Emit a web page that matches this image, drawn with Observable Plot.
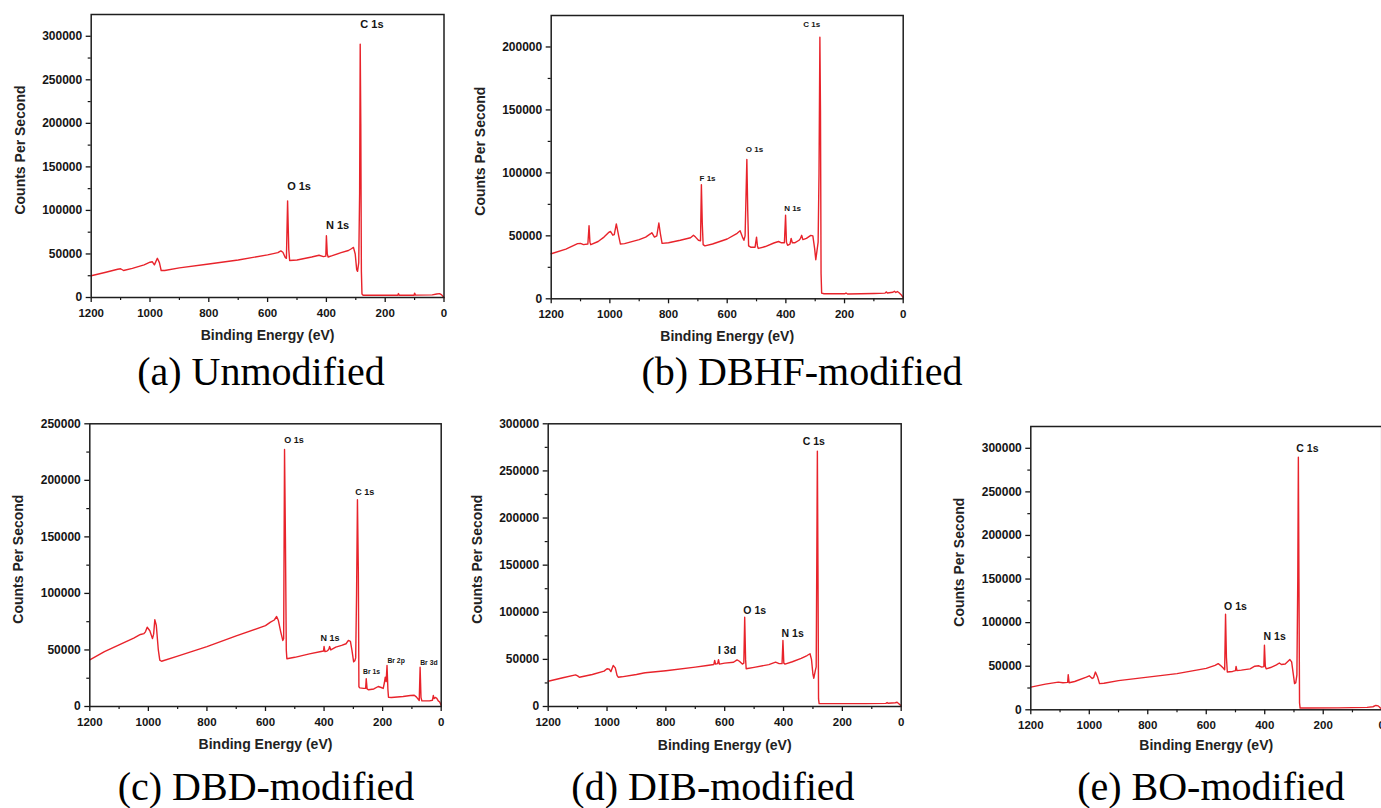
<!DOCTYPE html>
<html><head><meta charset="utf-8">
<script src="https://cdn.jsdelivr.net/npm/d3@7"></script>
<script src="https://cdn.jsdelivr.net/npm/@observablehq/plot@0.6"></script>
<style>
html,body{margin:0;padding:0;background:#fff;overflow:hidden;}
#page{position:relative;width:1381px;height:808px;overflow:hidden;background:#fff;}
.panel{position:absolute;}
.panel svg{max-width:none !important;}
.cap{position:absolute;width:480px;text-align:center;font-family:"Liberation Serif","Times New Roman",Times,serif;font-size:40px;line-height:40px;color:#000;white-space:nowrap;}
</style></head><body><div id="page"></div>
<script>
// ---- Data: [binding energy (eV), counts per second] ----
const seriesA = [[1200,25000],[1150,29000],[1110,32500],[1100,33000],[1090,31000],[1060,33500],[1020,37500],[1000,40500],[992,41000],[985,37500],[975,45000],[968,40000],[962,31000],[950,31000],[900,34000],[800,38500],[700,43000],[600,49000],[565,51500],[555,53500],[548,52000],[540,46000],[536,45000],[532,111000],[528,55000],[525,42500],[500,43000],[450,46500],[425,48500],[410,47000],[402,47500],[400,71000],[397,50000],[394,46500],[380,48000],[350,51500],[325,54000],[315,56000],[308,57500],[302,50000],[297,32000],[294,30000],[290,40000],[287,120000],[285,291000],[283,200000],[281,30000],[279,4000],[275,2500],[200,2500],[157,2500],[155,4500],[152,2500],[102,2500],[100,5000],[97,2700],[40,3000],[25,4000],[15,4500],[8,3000],[0,0]];
const seriesB = [[1200,35800],[1150,39500],[1110,43800],[1100,44000],[1090,43000],[1075,43500],[1071,58000],[1068,45000],[1065,43000],[1040,45500],[1020,49000],[1005,52500],[998,53500],[990,50500],[985,51000],[978,59500],[970,50000],[964,43500],[950,43800],[900,47000],[878,49000],[862,51500],[857,52500],[848,49000],[840,50000],[833,60200],[828,52000],[822,44000],[800,44500],[760,46500],[725,48500],[715,50500],[708,49000],[698,46500],[691,46000],[688,90700],[685,60000],[682,43000],[676,42000],[650,43500],[600,47500],[566,52000],[556,54000],[548,49000],[543,46500],[539,50000],[533,110600],[530,70000],[527,42000],[520,41000],[505,41000],[500,49000],[497,42000],[494,40000],[470,41500],[441,44300],[425,45500],[415,44500],[405,44500],[401,66300],[398,45000],[394,42500],[386,43500],[382,48000],[378,44500],[370,44500],[355,46500],[350,48000],[346,50400],[342,47000],[330,48000],[315,50400],[308,50000],[302,40000],[298,31000],[294,38000],[290,45000],[287,100000],[284,207700],[282,150000],[280,20000],[278,4500],[270,4000],[200,4000],[195,4600],[190,3800],[100,4200],[62,4500],[58,5500],[54,4600],[35,5200],[30,6000],[25,5000],[20,5800],[15,5000],[8,3500],[0,1000]];
const seriesC = [[1200,41300],[1150,48500],[1100,54500],[1050,60500],[1027,63700],[1015,64500],[1010,66000],[1004,70100],[995,67000],[986,60000],[982,64000],[978,76700],[973,72000],[966,50000],[961,41000],[955,40000],[900,44500],[800,53000],[700,62500],[600,71500],[583,74600],[570,76500],[562,79600],[556,76000],[548,66000],[541,58400],[538,60000],[535,227300],[532,150000],[529,50000],[527,42200],[500,43500],[450,46500],[406,48900],[402,49000],[400,53000],[397,48500],[390,49000],[384,50500],[381,53000],[377,50000],[360,52500],[340,54000],[325,55500],[317,58400],[310,57500],[305,50000],[299,39500],[295,40500],[292,43000],[289,100000],[286,182800],[283,120000],[281,17500],[278,16500],[265,16000],[258,16000],[256,24500],[253,15500],[248,14800],[230,15500],[215,17700],[205,16800],[198,16000],[194,21000],[191,26000],[188,22000],[185,36300],[182,15000],[180,8200],[170,8000],[130,8800],[105,9700],[92,10000],[85,8500],[75,5300],[72,34800],[69,8000],[66,5000],[40,5000],[30,5500],[27,9700],[24,7000],[20,8000],[15,7200],[10,5000],[5,4000],[0,1000]];
const seriesD = [[1200,26800],[1150,30500],[1107,33500],[1100,32500],[1094,31000],[1050,34000],[1010,37500],[1000,40000],[992,39500],[987,37000],[979,43500],[972,41000],[966,33000],[962,31100],[950,31500],[900,34000],[875,35500],[870,35800],[800,38000],[700,41800],[660,43500],[637,44500],[634,48800],[631,45000],[624,45500],[621,49600],[618,45000],[600,46000],[570,47000],[558,49500],[550,48000],[540,45000],[535,46000],[532,94800],[529,50000],[527,40000],[500,41500],[450,44500],[427,47000],[415,45500],[405,45500],[402,70100],[399,46000],[395,45000],[370,47500],[340,51000],[320,54100],[310,56000],[305,50000],[300,34000],[297,30000],[292,38000],[289,42000],[287,150000],[285,271000],[283,150000],[281,8000],[279,3000],[200,3000],[120,3000],[52,3300],[48,4200],[44,3400],[20,4000],[14,4500],[8,3000],[3,1500],[0,0]];
const seriesE = [[1200,26000],[1150,29500],[1106,31800],[1090,31000],[1074,31500],[1072,40300],[1069,31000],[1050,32500],[1010,37500],[1000,39000],[990,36000],[985,37000],[979,43300],[972,38000],[965,30000],[950,30500],[900,33500],[800,37500],[700,41500],[600,47500],[570,51000],[559,53000],[550,50500],[542,48000],[537,46000],[534,109700],[531,60000],[528,43300],[510,44000],[500,45000],[498,49800],[495,45000],[480,45500],[450,47000],[434,50000],[420,50500],[410,49000],[403,49500],[401,74000],[398,50000],[395,47000],[380,48500],[360,51500],[350,53700],[343,52000],[330,52500],[314,57600],[308,55000],[302,40000],[298,30000],[294,31000],[290,40000],[287,150000],[285,289700],[283,150000],[281,8000],[279,2000],[250,2000],[150,2200],[50,2800],[30,3500],[20,5000],[12,4500],[6,2500],[0,1000]];

// peak labels: [text, binding energy, counts]
const labelsA = [["C 1s",245,313000],["O 1s",493,127800],["N 1s",362,82700]];
const labelsB = [["C 1s",312,218000],["O 1s",507,119000],["F 1s",667,95700],["N 1s",377,72100]];
const labelsC = [["O 1s",503,235900],["C 1s",261,190000],["N 1s",380,60700],["Br 1s",238,30400],["Br 2p",154,40000],["Br 3d",42,38900]];
const labelsD = [["C 1s",297,281600],["O 1s",498,101900],["N 1s",369,77200],["I 3d",592,59400]];
const labelsE = [["C 1s",254,299300],["O 1s",500,118000],["N 1s",366,83600]];

const captions = ["(a) Unmodified","(b) DBHF-modified","(c) DBD-modified","(d) DIB-modified","(e) BO-modified"];
const yMaxes = [325000, 225000, 250000, 300000, 325000];
const xTicksMajor = [1200,1000,800,600,400,200,0];
const xTicksMinor = [1100,900,700,500,300,100];
const xTitle = "Binding Energy (eV)";
const yTitle = "Counts Per Second";

const RED = "#e8232b";
const INK = "#151515";
const fmt = d3.format("d");

const layouts = [
  {left:0,   top:0,   width:460, height:345, mL:90.7,  mR:16.5, mT:14,   mB:48,   xDy:38.5, peak:()=>11},
  {left:460, top:0,   width:460, height:345, mL:90.7,  mR:17.3, mT:15,   mB:46.7, xDy:37.5, peak:()=>8},
  {left:0,   top:410, width:460, height:345, mL:89.3,  mR:19.3, mT:13.3, mB:49,   xDy:38.5, peak:d=>d.text.startsWith("Br")?6.8:9},
  {left:460, top:410, width:460, height:345, mL:87.7,  mR:19.3, mT:13.3, mB:49,   xDy:39.5, peak:()=>10.5},
  {left:921, top:410, width:480, height:345, mL:109.3, mR:19.8, mT:16,   mB:45.7, xDy:35.5, peak:()=>10.5}
];
const capPos = [[261,351.5],[802,351.5],[266,766.5],[713,766.5],[1211,766.5]];
const allSeries = [seriesA, seriesB, seriesC, seriesD, seriesE];
const allLabels = [labelsA, labelsB, labelsC, labelsD, labelsE];

const page = document.getElementById("page");

allSeries.forEach((series, i) => {
  const L = layouts[i];
  const ymax = yMaxes[i];
  const pts = series.map(([be, cps]) => ({be, cps}));
  const labs = allLabels[i].map(([text, be, cps]) => ({text, be, cps}));
  const yMajor = d3.range(0, ymax + 1, 50000);
  const yMinor = d3.range(25000, ymax, 50000);
  const chart = Plot.plot({
    width: L.width, height: L.height,
    marginLeft: L.mL, marginRight: L.mR, marginTop: L.mT, marginBottom: L.mB,
    x: {domain: [1200, 0], label: null},
    y: {domain: [0, ymax], label: null},
    style: {fontFamily: "'Liberation Sans', Arial, sans-serif", background: "transparent", color: INK, overflow: "visible", maxWidth: "none"},
    marks: [
      Plot.axisX(xTicksMajor, {tickSize: 5, tickPadding: 6, fontSize: 11.5, fontWeight: "bold", tickFormat: fmt, label: null, stroke: INK, strokeWidth: 1.3, fill: INK}),
      Plot.axisX(xTicksMinor, {tickSize: 3, tickFormat: () => "", label: null, stroke: INK, strokeWidth: 1.2}),
      Plot.axisY(yMajor, {tickSize: 5, tickPadding: 4, fontSize: 12, fontWeight: "bold", tickFormat: fmt, label: null, stroke: INK, strokeWidth: 1.3, fill: INK}),
      Plot.axisY(yMinor, {tickSize: 3, tickFormat: () => "", label: null, stroke: INK, strokeWidth: 1.2}),
      Plot.line(pts, {x: "be", y: "cps", stroke: RED, strokeWidth: 1.4, strokeLinejoin: "round"}),
      Plot.frame({stroke: "#1e1e1e", strokeWidth: 1.5}),
      Plot.text(labs, {x: "be", y: "cps", text: "text", fontSize: L.peak, fontWeight: "bold", fill: INK, textAnchor: "middle", lineAnchor: "middle"}),
      Plot.text([xTitle], {frameAnchor: "bottom", dy: L.xDy, fontSize: 14, fontWeight: "bold", fill: "#222", textAnchor: "middle", lineAnchor: "middle"}),
      Plot.text([yTitle], {frameAnchor: "left", dx: -71, dy: -6, rotate: -90, fontSize: 14, fontWeight: "bold", fill: "#222", textAnchor: "middle", lineAnchor: "middle"})
    ]
  });
  chart.style.maxWidth = "none";
  const wrap = document.createElement("div");
  wrap.className = "panel";
  wrap.style.left = L.left + "px";
  wrap.style.top = L.top + "px";
  wrap.style.width = L.width + "px";
  wrap.style.height = L.height + "px";
  wrap.appendChild(chart);
  page.appendChild(wrap);

  const cap = document.createElement("div");
  cap.className = "cap";
  cap.textContent = captions[i];
  cap.style.left = (capPos[i][0] - 240) + "px";
  cap.style.top = capPos[i][1] + "px";
  page.appendChild(cap);
});
</script>
</body></html>
